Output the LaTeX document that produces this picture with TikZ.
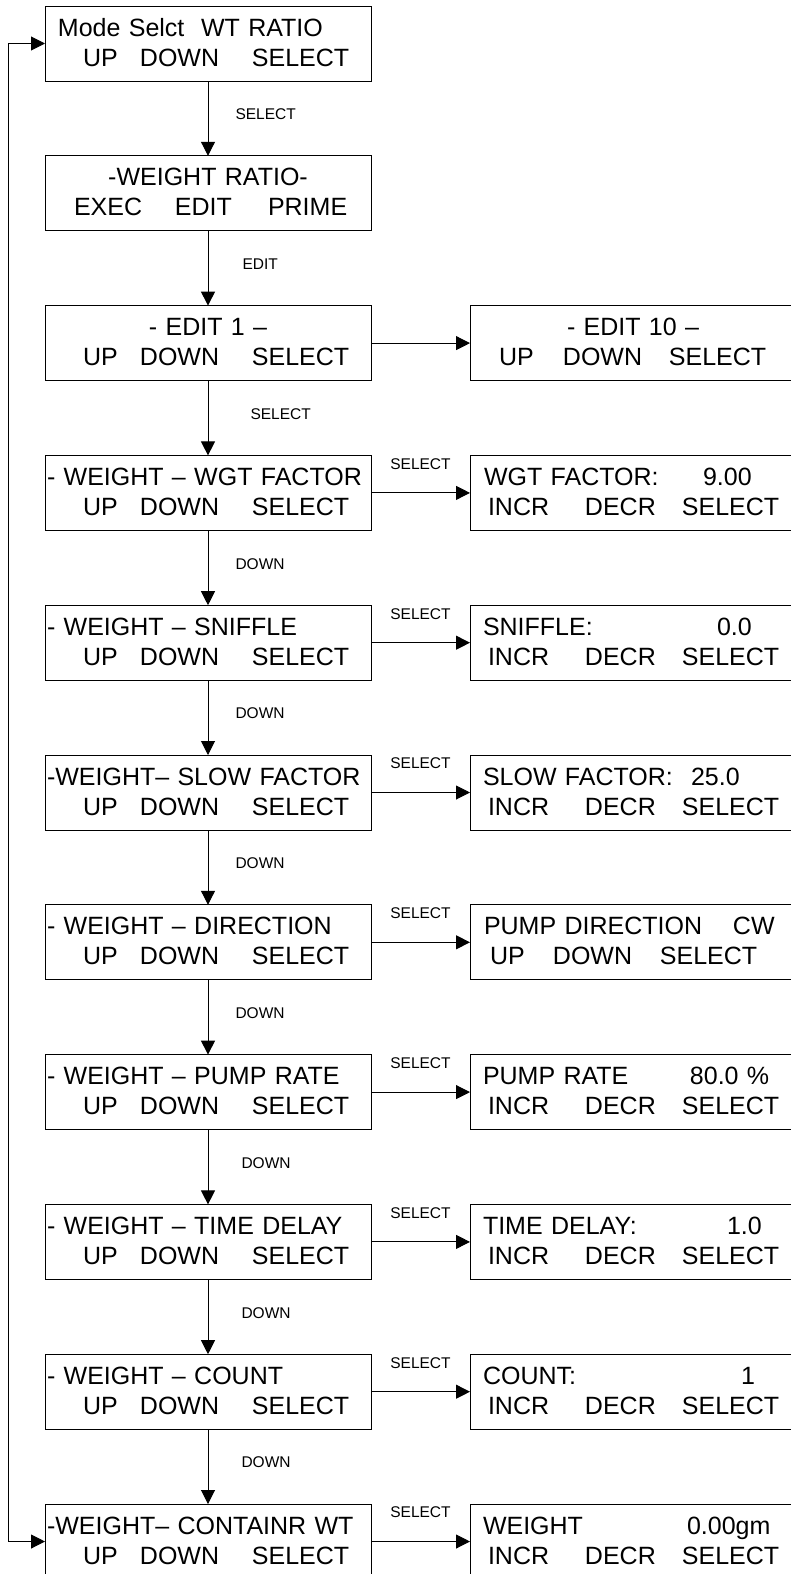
\documentclass[tikz,border=0pt]{standalone}
\usepackage{fontspec}
\setmainfont{Liberation Sans}
\usepackage{tikz}
\usetikzlibrary{arrows.meta,positioning}
\newcommand{\lcdat}[2]{\leavevmode\rlap{\rule[-5pt]{0pt}{25pt}\hspace{#1}#2}}
\newcommand{\lcdmid}[1]{\lcdat{0pt}{\makebox[326pt]{#1}}}
\newcommand{\keysUDS}{\lcdat{38pt}{UP}\lcdat{95pt}{DOWN}\lcdat{207pt}{SELECT}}
\newcommand{\keysIDS}{\lcdat{18pt}{INCR}\lcdat{115pt}{DECR}\lcdat{212pt}{SELECT}}

\begin{document}
\begin{tikzpicture}[x=1pt,y=-1pt,line width=1pt,>={Triangle[length=14pt,width=14pt]},
  lcd/.style={draw,rectangle,inner sep=0pt,outer sep=0pt,text width=326pt,
    minimum height=75pt,align=left,font=\fontsize{25pt}{30pt}\selectfont},
  key/.style={inner sep=0pt,font=\fontsize{15.5pt}{18pt}\selectfont},
  node distance=74.8pt and 99pt]
  \useasboundingbox (0,0) rectangle (791,1574);
  \clip (0,0) rectangle (791,1574);
  % left column: menu screens
  \node[lcd,anchor=north west] (mode) at (45,6)
    {\lcdat{13pt}{Mode Selct\ \ WT RATIO}\\\keysUDS};
  \node[lcd,below=of mode] (ratio)
    {\lcdmid{-WEIGHT RATIO-}\\\lcdat{29pt}{EXEC}\lcdat{130pt}{EDIT}\lcdat{223pt}{PRIME}};
  \node[lcd,below=of ratio] (edit) {\lcdmid{- EDIT 1 –}\\\keysUDS};
  \node[lcd,below=of edit] (wgt) {\lcdat{2pt}{- WEIGHT – WGT FACTOR}\\\keysUDS};
  \node[lcd,below=of wgt] (sniff) {\lcdat{2pt}{- WEIGHT – SNIFFLE}\\\keysUDS};
  \node[lcd,below=of sniff] (slow) {\lcdat{2pt}{-WEIGHT– SLOW FACTOR}\\\keysUDS};
  \node[lcd,below=of slow] (dir) {\lcdat{2pt}{- WEIGHT – DIRECTION}\\\keysUDS};
  \node[lcd,below=of dir] (rate) {\lcdat{2pt}{- WEIGHT – PUMP RATE}\\\keysUDS};
  \node[lcd,below=of rate] (delay) {\lcdat{2pt}{- WEIGHT – TIME DELAY}\\\keysUDS};
  \node[lcd,below=of delay] (count) {\lcdat{2pt}{- WEIGHT – COUNT}\\\keysUDS};
  \node[lcd,below=of count] (cont) {\lcdat{2pt}{-WEIGHT– CONTAINR WT}\\\keysUDS};
  % right column: value screens
  \node[lcd,right=of edit] (editten)
    {\lcdmid{- EDIT 10 –}\\\lcdat{29pt}{UP}\lcdat{93pt}{DOWN}\lcdat{199pt}{SELECT}};
  \node[lcd,right=of wgt] (wgtset) {\lcdat{14pt}{WGT FACTOR:}\lcdat{233pt}{9.00}\\\keysIDS};
  \node[lcd,right=of sniff] (sniffset) {\lcdat{13pt}{SNIFFLE:}\lcdat{247pt}{0.0}\\\keysIDS};
  \node[lcd,right=of slow] (slowset) {\lcdat{13pt}{SLOW FACTOR:}\lcdat{221pt}{25.0}\\\keysIDS};
  \node[lcd,right=of dir] (dirset)
    {\lcdat{14pt}{PUMP DIRECTION}\lcdat{263pt}{CW}\\\lcdat{20pt}{UP}\lcdat{83pt}{DOWN}\lcdat{190pt}{SELECT}};
  \node[lcd,right=of rate] (rateset) {\lcdat{13pt}{PUMP RATE}\lcdat{220pt}{80.0 \%}\\\keysIDS};
  \node[lcd,right=of delay] (delayset) {\lcdat{13pt}{TIME DELAY:}\lcdat{257pt}{1.0}\\\keysIDS};
  \node[lcd,right=of count] (countset) {\lcdat{13pt}{COUNT:}\lcdat{271pt}{1}\\\keysIDS};
  \node[lcd,right=of cont] (contset) {\lcdat{13pt}{WEIGHT}\lcdat{217pt}{0.00gm}\\\keysIDS};
  % key presses down the column
  \draw[->] (mode) -- node[key,anchor=west,xshift=27pt,yshift=4pt] {SELECT} (ratio);
  \draw[->] (ratio) -- node[key,anchor=west,xshift=34pt,yshift=4pt] {EDIT} (edit);
  \draw[->] (edit) -- node[key,anchor=west,xshift=42pt,yshift=4pt] {SELECT} (wgt);
  \draw[->] (wgt) -- node[key,anchor=west,xshift=27pt,yshift=4pt] {DOWN} (sniff);
  \draw[->] (sniff) -- node[key,anchor=west,xshift=27pt,yshift=4pt] {DOWN} (slow);
  \draw[->] (slow) -- node[key,anchor=west,xshift=27pt,yshift=4pt] {DOWN} (dir);
  \draw[->] (dir) -- node[key,anchor=west,xshift=27pt,yshift=4pt] {DOWN} (rate);
  \draw[->] (rate) -- node[key,anchor=west,xshift=33pt,yshift=4pt] {DOWN} (delay);
  \draw[->] (delay) -- node[key,anchor=west,xshift=33pt,yshift=4pt] {DOWN} (count);
  \draw[->] (count) -- node[key,anchor=west,xshift=33pt,yshift=4pt] {DOWN} (cont);
  % across to the value screens
  \draw[->] (edit) -- (editten);
  \draw[->] (wgt) -- node[key,yshift=29pt] {SELECT} (wgtset);
  \draw[->] (sniff) -- node[key,yshift=29pt] {SELECT} (sniffset);
  \draw[->] (slow) -- node[key,yshift=29pt] {SELECT} (slowset);
  \draw[->] (dir) -- node[key,yshift=29pt] {SELECT} (dirset);
  \draw[->] (rate) -- node[key,yshift=29pt] {SELECT} (rateset);
  \draw[->] (delay) -- node[key,yshift=29pt] {SELECT} (delayset);
  \draw[->] (count) -- node[key,yshift=29pt] {SELECT} (countset);
  \draw[->] (cont) -- node[key,yshift=29pt] {SELECT} (contset);
  % return loop
  \draw[<->] (mode.west) -- ++(-37,0) |- (cont.west);
\end{tikzpicture}
\end{document}
